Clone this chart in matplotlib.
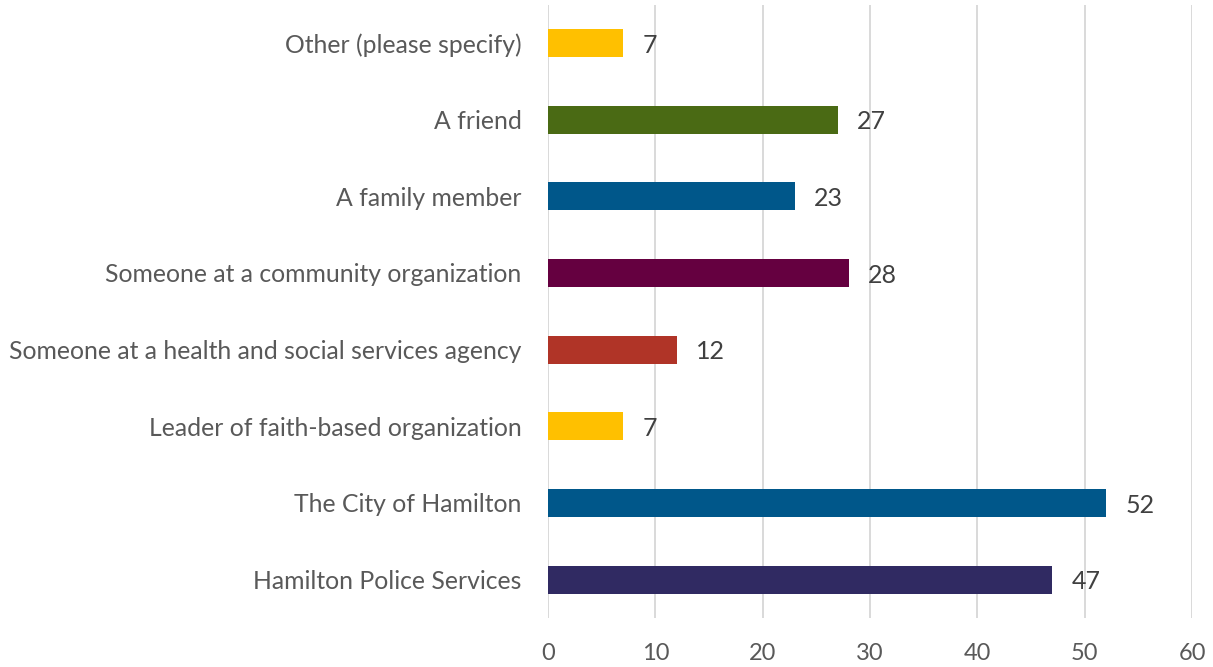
import matplotlib
matplotlib.use("Agg")
import matplotlib.pyplot as plt

categories = [
    "Hamilton Police Services",
    "The City of Hamilton",
    "Leader of faith-based organization",
    "Someone at a health and social services agency",
    "Someone at a community organization",
    "A family member",
    "A friend",
    "Other (please specify)",
]
values = [47, 52, 7, 12, 28, 23, 27, 7]
colors = ["#302A62", "#00578A", "#FFC000", "#B03427",
          "#650040", "#00578A", "#4A6A14", "#FFC000"]
x_ticks = [0, 10, 20, 30, 40, 50, 60]

plt.rcParams["font.family"] = ["Lato", "DejaVu Sans"]

fig = plt.figure(figsize=(12.13, 6.67), dpi=100)
ax = fig.add_axes([0.4518, 0.0735, 0.5309, 0.9195])

pos = list(range(len(categories)))
ax.barh(pos, values, height=0.365, color=colors, zorder=3)

for y, v in zip(pos, values):
    ax.text(v + 1.8, y - 0.03, str(v), va="center", ha="left",
            fontsize=18, color="#404040")

ax.set_xlim(0, 60)
ax.set_ylim(-0.5, len(categories) - 0.5)
ax.set_xticks(x_ticks)
ax.set_yticks(pos)
ax.set_yticklabels(categories)
ax.tick_params(axis="y", length=0, pad=19, labelsize=17.8, labelcolor="#595959")
ax.tick_params(axis="x", length=0, pad=18, labelsize=17, labelcolor="#595959")

ax.grid(axis="x", color="#D9D9D9", linewidth=1.4, zorder=0)
for s in ax.spines.values():
    s.set_visible(False)

fig.savefig("out.png", dpi=100, facecolor="white")
